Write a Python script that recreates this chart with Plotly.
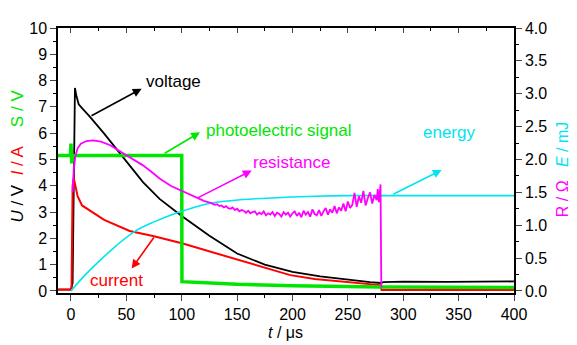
import plotly.graph_objects as go

FONT = "Liberation Sans, Arial, sans-serif"

# ---- data ----
volt_t = [-11.7, 0, 1.5, 2.5, 3.6, 5, 7, 10, 17, 30, 50, 65, 80, 100, 125, 150, 175, 200, 225, 250, 270, 280, 282, 300, 340, 400]
volt_v = [0.05, 0.05, 0.3, 5.0, 7.72, 7.4, 7.1, 6.95, 6.63, 5.98, 4.94, 4.14, 3.5, 2.85, 2.1, 1.42, 1.0, 0.72, 0.55, 0.42, 0.33, 0.3, 0.33, 0.35, 0.34, 0.36]

curr_t = [-11.7, 0.5, 1.0, 1.5, 2.5, 4, 6, 10, 17, 30, 53, 74, 101, 125, 152, 175, 198, 220, 243, 265, 279, 280.5, 400]
curr_v = [0.05, 0.05, 2.0, 4.0, 4.3, 4.0, 3.6, 3.25, 3.05, 2.7, 2.28, 2.09, 1.80, 1.5, 1.16, 0.87, 0.6, 0.45, 0.35, 0.27, 0.22, 0.03, 0.03]

sig_t = [-11.7, -0.5, 0, 0.7, 1.5, 100, 100.2, 150, 200, 280, 400]
sig_v = [5.15, 5.15, 5.6, 4.85, 5.15, 5.15, 0.35, 0.25, 0.2, 0.15, 0.13]

res_t = [1.5, 2.5, 4, 6, 9, 14, 20, 27, 35, 42, 50, 58, 65, 72, 80, 90, 100, 110, 120,
         126, 128, 130, 132, 134, 136, 138, 140, 142, 144, 146, 148, 150, 152, 154, 156, 158, 160,
         162, 164, 166, 168, 170, 172, 174, 176, 178, 180, 182, 184, 186, 188, 190, 192, 194, 196, 198, 200,
         202, 204, 206, 208, 210, 212, 214, 216, 218, 220, 222, 224, 226, 228, 230, 232, 234, 236, 238, 240,
         242, 244, 246, 248, 250, 252, 254, 256, 258, 260, 262, 264, 266, 268, 270, 272, 274, 276, 277, 278,
         279, 279.5, 280.2]
res_r = [1.5, 1.85, 2.05, 2.17, 2.24, 2.28, 2.29, 2.27, 2.22, 2.15, 2.06, 1.98, 1.91, 1.82, 1.71, 1.6, 1.52, 1.44, 1.37,
         1.34, 1.33, 1.31, 1.32, 1.29, 1.30, 1.27, 1.29, 1.26, 1.25, 1.27, 1.23, 1.25, 1.21, 1.23, 1.22, 1.19, 1.22,
         1.18, 1.20, 1.21, 1.16, 1.19, 1.17, 1.21, 1.15, 1.18, 1.16, 1.20, 1.14, 1.19, 1.17, 1.13, 1.20, 1.16, 1.19, 1.13, 1.18,
         1.21, 1.14, 1.19, 1.12, 1.22, 1.16, 1.20, 1.13, 1.24, 1.17, 1.15, 1.23, 1.14, 1.21, 1.26, 1.16, 1.24, 1.19, 1.29, 1.18,
         1.27, 1.22, 1.33, 1.21, 1.36, 1.26, 1.31, 1.49, 1.28, 1.44, 1.34, 1.52, 1.30, 1.41, 1.50, 1.33, 1.46, 1.38, 1.55, 1.35,
         1.48, 1.62, 0.05]

energy_t = [0, 11, 26, 41, 58, 75, 98, 125, 155, 190, 220, 250, 280, 400]
energy_e = [0, 0.21, 0.46, 0.69, 0.91, 1.05, 1.2, 1.33, 1.39, 1.42, 1.44, 1.45, 1.45, 1.45]

x_ticks = [0, 50, 100, 150, 200, 250, 300, 350, 400]
y_ticks = list(range(0, 11))
y2_ticks = [0.0, 0.5, 1.0, 1.5, 2.0, 2.5, 3.0, 3.5, 4.0]

GREEN = "#00e600"
MAG = "#ff00ff"
CYAN = "#00e5ee"
RED = "#ff0000"

fig = go.Figure()
fig.add_trace(go.Scatter(x=volt_t, y=volt_v, mode="lines", line=dict(color="black", width=1.8), showlegend=False))
fig.add_trace(go.Scatter(x=curr_t, y=curr_v, mode="lines", line=dict(color=RED, width=2), showlegend=False))
fig.add_trace(go.Scatter(x=sig_t, y=sig_v, mode="lines", line=dict(color=GREEN, width=3.5), showlegend=False))
fig.add_trace(go.Scatter(x=energy_t, y=energy_e, mode="lines", yaxis="y2", line=dict(color=CYAN, width=1.6, shape="spline"), showlegend=False))
fig.add_trace(go.Scatter(x=res_t, y=res_r, mode="lines", yaxis="y2", line=dict(color=MAG, width=1.8), showlegend=False))
# invisible trace to activate the top mirror axis
fig.add_trace(go.Scatter(x=[0], y=[0], xaxis="x2", mode="markers", marker=dict(opacity=0), showlegend=False, hoverinfo="skip"))

tickfont = dict(family=FONT, size=16, color="black")
# page body has an 8px margin on left/top, so the figure is 8px smaller and left/top offsets reduced by 8
fig.update_layout(
    width=569, height=337,
    margin=dict(l=50, r=63, t=15, b=52),
    paper_bgcolor="white", plot_bgcolor="white",
    font=dict(family=FONT, color="black"),
    xaxis=dict(range=[-11.7, 400], tickvals=x_ticks, ticks="outside", ticklen=6, tickwidth=1.3,
               showline=True, linecolor="black", linewidth=1.5, showgrid=False, zeroline=False,
               tickfont=tickfont,
               minor=dict(dtick=25, tick0=0, ticks="outside", ticklen=3, tickwidth=1.2, tickcolor="black", showgrid=False)),
    xaxis2=dict(range=[-11.7, 400], overlaying="x", side="top", anchor="y", tickvals=x_ticks, ticks="inside",
                ticklen=5, tickwidth=1.3, showticklabels=False, showline=True, linecolor="black", linewidth=1.5,
                showgrid=False, zeroline=False,
                minor=dict(dtick=25, tick0=0, ticks="inside", ticklen=3, tickwidth=1.2, tickcolor="black", showgrid=False)),
    yaxis=dict(range=[-0.08, 10], tickvals=y_ticks, ticks="outside", ticklen=6, tickwidth=1.3,
               showline=True, linecolor="black", linewidth=1.5, showgrid=False, zeroline=False,
               tickfont=tickfont,
               minor=dict(dtick=0.5, tick0=0, ticks="outside", ticklen=3, tickwidth=1.2, tickcolor="black", showgrid=False)),
    yaxis2=dict(range=[-0.032, 4.0], overlaying="y", side="right", tickvals=y2_ticks, tickformat=".1f",
                ticks="outside", ticklen=6, tickwidth=1.3, showline=True, linecolor="black", linewidth=1.5,
                showgrid=False, zeroline=False, tickfont=tickfont,
                minor=dict(dtick=0.25, tick0=0, ticks="outside", ticklen=3, tickwidth=1.2, tickcolor="black", showgrid=False)),
)

ann = []
# axis titles
ann.append(dict(xref="paper", yref="paper", x=-0.088, y=0.518, textangle=-90, showarrow=False,
                xanchor="center", yanchor="middle",
                font=dict(family=FONT, size=17, color="black"),
                text="<i>U</i> / V\u00a0\u00a0<span style='color:#ff0000'><i>I</i> / A</span>\u00a0\u00a0\u00a0\u00a0<span style='color:#00e600'>S / V</span>"))
ann.append(dict(xref="paper", yref="paper", x=1.108, y=0.468, textangle=-90, showarrow=False,
                xanchor="center", yanchor="middle",
                font=dict(family=FONT, size=16, color=MAG),
                text="R / \u03a9\u00a0\u00a0\u00a0<span style='color:#00e5ee'><i>E</i> / mJ</span>"))
ann.append(dict(xref="paper", yref="paper", x=0.499, y=-0.148, showarrow=False,
                xanchor="center", yanchor="middle",
                font=dict(family=FONT, size=16, color="black"), text="<i>t</i> / \u03bcs"))

# labels and arrows (left-axis data coordinates)
labels = [
    ("voltage", "black", 93, 7.95, 63.8, 7.69, 17.2, 6.63),
    ("photoelectric signal", GREEN, 187.8, 6.12, 116.5, 6.03, 83.3, 5.20),
    ("resistance", MAG, 199.5, 4.89, 163.2, 4.58, 113.5, 3.52),
    ("energy", CYAN, 341.3, 6.04, 334.7, 4.60, 289.6, 3.65),
    ("current", RED, 41.5, 0.41, 54.8, 0.85, 75.8, 2.09),
]
for txt, col, tx, ty, hx, hy, sx, sy in labels:
    ann.append(dict(xref="x", yref="y", x=tx, y=ty, text=txt, showarrow=False,
                    xanchor="center", yanchor="middle",
                    font=dict(family=FONT, size=17, color=col)))
    ann.append(dict(xref="x", yref="y", x=hx, y=hy, axref="x", ayref="y", ax=sx, ay=sy, text="",
                    showarrow=True, arrowhead=2, arrowsize=1.1, arrowwidth=1.6, arrowcolor=col))

fig.update_layout(annotations=ann)
fig.write_html("out.html")
